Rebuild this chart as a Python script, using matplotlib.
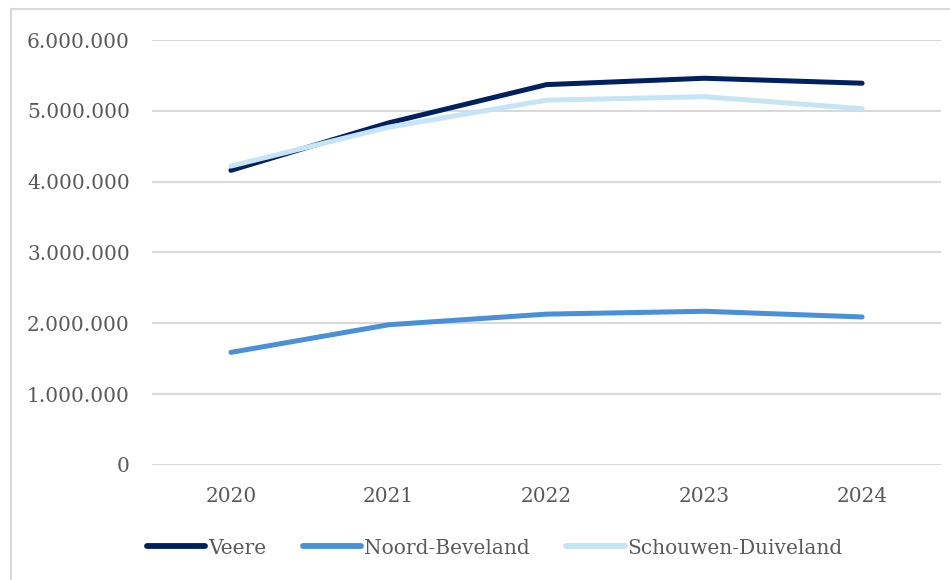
import matplotlib
matplotlib.use("Agg")
import matplotlib.pyplot as plt
from matplotlib.ticker import FuncFormatter, MultipleLocator
from matplotlib.lines import Line2D

years = ["2020", "2021", "2022", "2023", "2024"]
veere = [4160000, 4830000, 5370000, 5460000, 5390000]
noord_beveland = [1590000, 1980000, 2130000, 2170000, 2090000]
schouwen_duiveland = [4220000, 4770000, 5150000, 5200000, 5030000]

series = [
    ("Veere", veere, "#002060"),
    ("Noord-Beveland", noord_beveland, "#4a90d9"),
    ("Schouwen-Duiveland", schouwen_duiveland, "#c5e4f5"),
]

text_color = "#595959"
grid_color = "#d9d9d9"
plt.rcParams["font.family"] = ["DejaVu Serif"]

fig = plt.figure(figsize=(9.5, 5.8), dpi=100)
ax = fig.add_axes([152/950, 1-465/580, (941-152)/950, (465-40)/580])

x = list(range(len(years)))
for name, vals, col in series:
    ax.plot(x, vals, color=col, lw=3.6, solid_capstyle="round", label=name, zorder=3)

ax.set_xlim(-0.5, len(years) - 0.5)
ax.set_ylim(0, 6000000)
ax.yaxis.set_major_locator(MultipleLocator(1000000))
ax.yaxis.set_major_formatter(FuncFormatter(lambda v, p: f"{int(v):,}".replace(",", ".")))
ax.set_xticks(x)
ax.set_xticklabels(years)
ax.grid(axis="y", color=grid_color, lw=1.5, zorder=0)
for s in ax.spines.values():
    s.set_visible(False)
ax.tick_params(axis="both", length=0, colors=text_color, labelsize=14.5)
ax.tick_params(axis="y", pad=16)
ax.tick_params(axis="x", pad=16)

handles = [Line2D([0], [0], color=c, lw=4.2, solid_capstyle="round") for _, _, c in series]
leg = fig.legend(handles, [n for n, _, _ in series], loc="center", ncol=3,
                 bbox_to_anchor=(495/950, 1-548/580), frameon=False,
                 fontsize=14.5, handlelength=2.9, handletextpad=0.15, columnspacing=1.8)
for t in leg.get_texts():
    t.set_color(text_color)

# chart border (top and left visible)
fig.add_artist(Line2D([11/950, 11/950], [0, 1-9/580], color=grid_color, lw=1.5, transform=fig.transFigure))
fig.add_artist(Line2D([11/950, 1], [1-9/580, 1-9/580], color=grid_color, lw=1.5, transform=fig.transFigure))

fig.savefig("out.png", dpi=100)
